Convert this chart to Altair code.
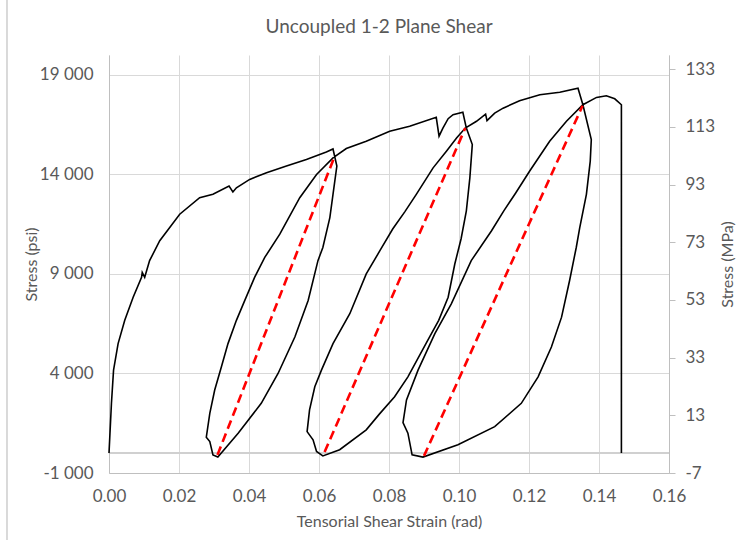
import altair as alt
import pandas as pd

FONT = "Lato"
TEXT_GREY = "#595959"
GRID_GREY = "#d9d9d9"
AXIS_GREY = "#bfbfbf"

TITLE = "Uncoupled 1-2 Plane Shear"

# Initial loading up to the first peak (strain in rad, stress in psi)
LOAD1_STRAIN = [0.0, 0.0007, 0.0013, 0.0026, 0.0045, 0.0069, 0.0093, 0.0095, 0.0102, 0.0116,
                0.0145, 0.0202, 0.0259, 0.0297, 0.0343, 0.0354, 0.0364, 0.0402, 0.0450,
                0.0507, 0.0564, 0.0621, 0.0640]
LOAD1_PSI = [0, 2500, 4170, 5500, 6670, 7830, 8830, 9080, 8830, 9670,
             10670, 12000, 12830, 13000, 13420, 13120, 13330, 13750, 14080,
             14420, 14750, 15130, 15280]

# First unloading
UNLOAD1_STRAIN = [0.0651, 0.0640, 0.0631, 0.0611, 0.0597, 0.0569, 0.0531, 0.0483, 0.0435,
                  0.0369, 0.0311, 0.0297, 0.0288, 0.0278]
UNLOAD1_PSI = [14420, 13000, 11830, 10330, 9670, 7670, 5830, 4000, 2500,
               1000, -200, -90, 580, 800]

# Reloading and loading to the second peak
LOAD2_STRAIN = [0.0288, 0.0302, 0.0321, 0.0340, 0.0364, 0.0388, 0.0416, 0.0445, 0.0488,
                0.0545, 0.0593, 0.0640, 0.0678, 0.0735, 0.0802, 0.0859, 0.0935, 0.0943,
                0.0954, 0.0969, 0.0983, 0.1011]
LOAD2_PSI = [2000, 3170, 4330, 5500, 6670, 7670, 8830, 9830, 11000,
             12830, 14000, 14830, 15300, 15670, 16170, 16420, 16870, 15920,
             16330, 16800, 17000, 17120]

# Second unloading
UNLOAD2_STRAIN = [0.1021, 0.1038, 0.1031, 0.1021, 0.1006, 0.0988, 0.0969, 0.0942, 0.0911,
                  0.0854, 0.0816, 0.0773, 0.0735, 0.0659, 0.0611, 0.0593, 0.0583, 0.0566]
UNLOAD2_PSI = [16330, 15500, 13830, 12170, 10770, 9500, 7830, 6670, 5670,
               3830, 2830, 1970, 1170, 170, -140, 80, 670, 1080]

# Reloading and loading to the third peak
LOAD3_STRAIN = [0.0573, 0.0588, 0.0607, 0.0640, 0.0688, 0.0735, 0.0774, 0.0811, 0.0845,
                0.0878, 0.0926, 0.0964, 0.0993, 0.1018, 0.1050, 0.1076, 0.1080, 0.1102,
                0.1126, 0.1173, 0.1231, 0.1288, 0.1340]
LOAD3_PSI = [2170, 3330, 4170, 5500, 7000, 9000, 10170, 11270, 12120,
             13000, 14330, 15170, 15830, 16330, 16670, 17030, 16700, 17080,
             17330, 17700, 18000, 18130, 18330]

# Third unloading
UNLOAD3_STRAIN = [0.1354, 0.1378, 0.1375, 0.1364, 0.1345, 0.1335, 0.1316, 0.1293, 0.1264,
                  0.1226, 0.1178, 0.1102, 0.0997, 0.0897, 0.0866, 0.0854, 0.0840]
UNLOAD3_PSI = [17500, 15750, 14670, 13000, 11330, 10330, 8670, 6830, 5330,
               3830, 2500, 1330, 420, -200, -90, 1000, 1530]

# Final reloading to failure
LOAD4_STRAIN = [0.0850, 0.0883, 0.0931, 0.0978, 0.1035, 0.1093, 0.1128, 0.1162, 0.1202,
                0.1259, 0.1307, 0.1354, 0.1393, 0.1421, 0.1445, 0.1464, 0.1464]
LOAD4_PSI = [2670, 4170, 6000, 7500, 9670, 11170, 12170, 13070, 14170,
             15670, 16670, 17500, 17870, 17950, 17800, 17500, 0]

# Unloading-modulus chords of the three cycles
CHORD_STRAIN_START = [0.0310, 0.0616, 0.0900]
CHORD_PSI_START = [-90, 50, -140]
CHORD_STRAIN_END = [0.0643, 0.1018, 0.1353]
CHORD_PSI_END = [14830, 16330, 17450]

X_TICKS = [0.0, 0.02, 0.04, 0.06, 0.08, 0.10, 0.12, 0.14, 0.16]
PSI_TICKS = [-1000, 4000, 9000, 14000, 19000]
MPA_TICKS = [-7, 13, 33, 53, 73, 93, 113, 133]
PSI_DOMAIN = [-1000, 20000]
MPA_DOMAIN = [-7, 137.9]
STRAIN_DOMAIN = [0, 0.16]

LABEL_SIZE = 17
AXIS_TITLE_SIZE = 16

strain_parts = [LOAD1_STRAIN, UNLOAD1_STRAIN, LOAD2_STRAIN, UNLOAD2_STRAIN,
                LOAD3_STRAIN, UNLOAD3_STRAIN, LOAD4_STRAIN]
psi_parts = [LOAD1_PSI, UNLOAD1_PSI, LOAD2_PSI, UNLOAD2_PSI,
             LOAD3_PSI, UNLOAD3_PSI, LOAD4_PSI]
strain_all = [v for part in strain_parts for v in part]
psi_all = [v for part in psi_parts for v in part]
curve = pd.DataFrame({"strain": strain_all, "psi": psi_all, "seq": range(len(strain_all))})

chords = pd.DataFrame({
    "x1": CHORD_STRAIN_START, "y1": CHORD_PSI_START,
    "x2": CHORD_STRAIN_END, "y2": CHORD_PSI_END,
})

x_scale = alt.Scale(domain=STRAIN_DOMAIN, nice=False, zero=False)
x_enc = alt.X(
    "strain:Q",
    scale=x_scale,
    axis=alt.Axis(
        values=X_TICKS, format=".2f", title="Tensorial Shear Strain (rad)",
        grid=True, gridColor=GRID_GREY, ticks=False, domainColor=AXIS_GREY,
        labelFlush=False, labelOverlap=False,
        labelPadding=15, labelFont=FONT, labelFontSize=LABEL_SIZE, labelColor=TEXT_GREY,
        titleFont=FONT, titleFontSize=AXIS_TITLE_SIZE, titleFontWeight="normal",
        titleColor=TEXT_GREY, titleX=280, titleY=48, titleBaseline="middle",
    ),
)
y_scale = alt.Scale(domain=PSI_DOMAIN, nice=False, zero=False)
y_enc = alt.Y(
    "psi:Q",
    scale=y_scale,
    axis=alt.Axis(
        values=PSI_TICKS, title="Stress (psi)",
        labelExpr="(datum.value < 0 ? '-' : '') + replace(format(abs(datum.value), ','), ',', ' ')",
        grid=True, gridColor=GRID_GREY, ticks=False, domainColor=AXIS_GREY,
        labelFlush=False, labelOverlap=False,
        labelPadding=16, labelFont=FONT, labelFontSize=LABEL_SIZE, labelColor=TEXT_GREY,
        titleFont=FONT, titleFontSize=AXIS_TITLE_SIZE, titleFontWeight="normal",
        titleColor=TEXT_GREY, titleX=-78, titleY=209, titleBaseline="middle",
    ),
)

# Horizontal line at zero stress
zero_line = alt.Chart(curve).mark_rule(color="#d0d0d0", strokeWidth=1).encode(
    y=alt.datum(0, scale=y_scale)
)

curve_line = alt.Chart(curve).mark_line(color="black", strokeWidth=1.6).encode(
    x=x_enc, y=y_enc, order="seq:Q"
)

chord_lines = alt.Chart(chords).mark_rule(
    color="#ff0000", strokeWidth=2.6, strokeDash=[9, 5]
).encode(
    x=alt.X("x1:Q", scale=x_scale),
    x2="x2:Q",
    y=alt.Y("y1:Q", scale=y_scale),
    y2="y2:Q",
)

left_border = alt.Chart(curve).mark_rule(color=GRID_GREY, strokeWidth=1).encode(
    x=alt.value(-102), y=alt.value(-55), y2=alt.value(485)
)

title_text = alt.Chart(pd.DataFrame({"t": [TITLE]})).mark_text(
    font=FONT, fontSize=19, color=TEXT_GREY, align="center", baseline="middle"
).encode(text="t:N", x=alt.value(270), y=alt.value(-28))

psi_layers = alt.layer(zero_line, curve_line, chord_lines, left_border, title_text)

mpa_axis = alt.Chart(pd.DataFrame({"mpa": MPA_DOMAIN})).mark_point(opacity=0).encode(
    y=alt.Y(
        "mpa:Q",
        scale=alt.Scale(domain=MPA_DOMAIN, nice=False, zero=False),
        axis=alt.Axis(
            orient="right", values=MPA_TICKS, title="Stress (MPa)", grid=False,
            labelExpr="(datum.value < 0 ? '-' : '') + format(abs(datum.value), 'd')",
            labelFlush=False, labelOverlap=False,
            ticks=True, tickSize=6, tickColor=AXIS_GREY, domainColor=AXIS_GREY,
            labelPadding=10, labelFont=FONT, labelFontSize=LABEL_SIZE, labelColor=TEXT_GREY,
            titleFont=FONT, titleFontSize=AXIS_TITLE_SIZE, titleFontWeight="normal",
            titleColor=TEXT_GREY, titleAngle=270, titleX=58, titleY=209,
            titleBaseline="middle",
        ),
    )
)

chart = (
    alt.layer(psi_layers, mpa_axis)
    .resolve_scale(y="independent")
    .properties(
        width=560, height=418,
        padding={"left": 109, "top": 55, "right": 72, "bottom": 67},
        autosize=alt.AutoSizeParams(type="none"),
        background="white",
    )
    .configure_view(strokeWidth=0)
)

chart.save("out.html", embed_options={"renderer": "svg", "actions": False})
